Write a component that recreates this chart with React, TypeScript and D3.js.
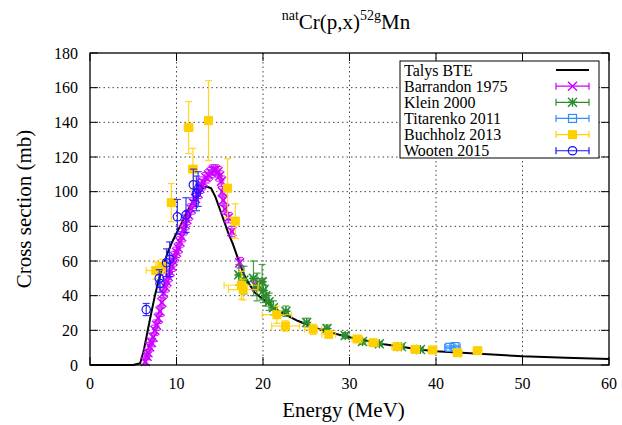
import { useEffect, useRef } from "react";
import * as d3 from "d3";

// Talys BTE calculation
const talysEnergy = [0, 5, 5.8, 6.2, 6.6, 7, 7.5, 8, 8.5, 9, 9.5, 10, 10.5, 11, 11.5, 12, 12.5, 13, 13.5, 14, 14.5, 15, 15.5, 16, 16.5, 17, 17.5, 18, 18.5, 19, 19.5, 20, 21, 22, 23, 24, 25, 26, 27, 28, 30, 32, 34, 36, 38, 40, 45, 50, 55, 60];
const talysXS = [0, 0, 1, 8, 18, 28, 40, 50, 58, 65, 71, 76, 81, 86, 91, 95, 99, 102, 103, 102, 97, 90, 83, 76, 70, 63, 56, 50, 46, 42, 40, 38, 34, 30.5, 28, 25.5, 23.5, 21.5, 20, 18.5, 16, 14, 12, 10.5, 9, 8, 6.5, 5, 4.2, 3.5];

// [energy, xs, dE, dxs]
const barrandon1975 = [
  [6.4, 2, 0.15, 2], [6.6, 5, 0.15, 2], [6.7, 7, 0.15, 2], [6.9, 10.5, 0.15, 2.5], [7.1, 13, 0.15, 2.5],
  [7.3, 16, 0.15, 2.5], [7.5, 20, 0.15, 3], [7.7, 23, 0.15, 3], [7.9, 27, 0.15, 3], [8.1, 31, 0.15, 3],
  [8.3, 36, 0.15, 3], [8.5, 41.5, 0.15, 3], [8.7, 45, 0.15, 3], [8.9, 48, 0.15, 3], [9.05, 51, 0.15, 3],
  [9.25, 54, 0.15, 3], [9.45, 57, 0.15, 3], [9.6, 60, 0.15, 3], [9.8, 62.5, 0.15, 3], [10.0, 65, 0.15, 3],
  [10.2, 67.5, 0.15, 3], [10.4, 71, 0.15, 3], [10.6, 74, 0.15, 3], [10.8, 78, 0.15, 3], [11.0, 81, 0.15, 3],
  [11.2, 84, 0.15, 3], [11.4, 86.5, 0.15, 3], [11.7, 90, 0.15, 3], [11.95, 93.5, 0.15, 3], [12.2, 96, 0.15, 3],
  [12.5, 99, 0.15, 3], [12.7, 102, 0.15, 3], [12.9, 104, 0.15, 3], [13.1, 105.5, 0.15, 3], [13.4, 108, 0.15, 3],
  [13.7, 109.6, 0.15, 3], [14.0, 111, 0.15, 3], [14.25, 112.5, 0.15, 3], [14.5, 112.5, 0.15, 3], [14.8, 111.5, 0.15, 3],
  [15.0, 109, 0.15, 3], [15.2, 106, 0.15, 3], [15.3, 100, 0.15, 3], [15.4, 95, 0.15, 3], [15.6, 90, 0.15, 3],
  [16.0, 85, 0.15, 3], [16.4, 77, 0.15, 3], [17.3, 59, 0.15, 3], [19.1, 46, 0.15, 3],
];

const klein2000 = [
  [17.2, 52, 0.3, 6], [17.8, 49, 0.3, 8], [18.9, 50, 0.3, 10], [19.3, 45, 0.3, 8], [19.9, 48, 0.3, 10],
  [20.05, 43, 0.3, 7], [20.3, 40, 0.3, 6], [20.7, 36.5, 0.3, 5], [21.2, 33, 0.3, 4], [22.65, 31, 0.3, 3],
  [25.05, 24.5, 0.3, 2.5], [27.4, 21, 0.3, 2], [29.5, 17, 0.3, 1.7], [31.5, 13.5, 0.3, 1.5],
  [33.45, 12.3, 0.3, 1.2], [36, 10.6, 0.3, 1], [38.2, 9, 0.3, 0.9],
];

const titarenko2011 = [
  [41.6, 10.2, 0.6, 0.8], [42.2, 10.6, 0.6, 0.8],
];

const buchholz2013 = [
  [7.6, 54.5, 1.1, 5], [8.4, 57, 0.6, 4], [9.4, 93.7, 0.4, 11], [11.4, 137, 0.5, 15],
  [11.9, 113, 0.5, 12], [13.7, 141, 0.3, 23], [15.9, 102, 0.3, 17], [16.8, 83, 0.3, 10],
  [17.5, 46, 2, 8], [17.7, 43.5, 1.7, 6], [21.6, 29, 1.7, 5], [22.6, 22.5, 1.6, 3],
  [25.8, 20.6, 1.0, 3], [27.6, 17.7, 0.8, 2], [30.9, 15, 0.6, 1.5], [32.75, 12.9, 0.6, 1.3],
  [35.5, 10.6, 0.6, 1], [37.6, 9, 0.5, 1], [39.6, 8.7, 0.5, 1], [42.5, 7.1, 0.5, 1], [44.8, 8.3, 0.5, 1],
];

const wooten2015 = [
  [6.5, 32, 0, 3.5], [8.0, 50, 0, 5], [8.1, 47, 0, 5], [8.85, 59, 0, 8], [9.2, 61, 0, 10],
  [10.1, 85.5, 0, 10], [11.1, 86.5, 0, 10], [11.95, 104, 0, 9], [12.3, 99, 0, 10], [12.5, 101.5, 0, 10],
];

const xTicks = [0, 10, 20, 30, 40, 50, 60];
const yTicks = [0, 20, 40, 60, 80, 100, 120, 140, 160, 180];

const series = [
  { name: "Barrandon 1975", data: barrandon1975, color: "#cc00ff", mark: "cross" },
  { name: "Klein 2000", data: klein2000, color: "#2a8c2a", mark: "star" },
  { name: "Titarenko 2011", data: titarenko2011, color: "#2d8cff", mark: "square" },
  { name: "Buchholz 2013", data: buchholz2013, color: "#ffd000", mark: "fsquare" },
  { name: "Wooten 2015", data: wooten2015, color: "#1414ff", mark: "circle" },
];

function drawMark(g: any, kind: string, cx: number, cy: number, color: string) {
  const s = 4.5;
  if (kind === "cross" || kind === "star") {
    g.append("path")
      .attr("d", `M${cx - s},${cy - s}L${cx + s},${cy + s}M${cx - s},${cy + s}L${cx + s},${cy - s}` +
        (kind === "star" ? `M${cx - s},${cy}L${cx + s},${cy}M${cx},${cy - s}L${cx},${cy + s}` : ""))
      .attr("stroke", color).attr("stroke-width", 1.4).attr("fill", "none");
  } else if (kind === "square") {
    g.append("rect").attr("x", cx - 4).attr("y", cy - 4).attr("width", 8).attr("height", 8)
      .attr("fill", "none").attr("stroke", color).attr("stroke-width", 1.2);
  } else if (kind === "fsquare") {
    g.append("rect").attr("x", cx - 4.5).attr("y", cy - 4.5).attr("width", 9).attr("height", 9)
      .attr("fill", color);
  } else if (kind === "circle") {
    g.append("circle").attr("cx", cx).attr("cy", cy).attr("r", 4.2)
      .attr("fill", "none").attr("stroke", color).attr("stroke-width", 1.2);
  }
}

function Chart() {
  const ref = useRef<SVGSVGElement>(null);

  useEffect(() => {
    const width = 622, height = 425;
    const margin = { left: 90, right: 13, top: 53, bottom: 60 };
    const x = d3.scaleLinear().domain([0, 60]).range([margin.left, width - margin.right]);
    const y = d3.scaleLinear().domain([0, 180]).range([height - margin.bottom, margin.top]);

    const svg = d3.select(ref.current);
    svg.selectAll("*").remove();
    svg.append("rect").attr("width", width).attr("height", height).attr("fill", "white");

    // grid
    const grid = svg.append("g").attr("stroke", "#444").attr("stroke-width", 1).attr("stroke-dasharray", "1.5,3");
    xTicks.slice(1, -1).forEach(t => {
      grid.append("line").attr("x1", x(t)).attr("x2", x(t)).attr("y1", y(0)).attr("y2", y(180));
    });
    yTicks.slice(1, -1).forEach(t => {
      grid.append("line").attr("x1", x(0)).attr("x2", x(60)).attr("y1", y(t)).attr("y2", y(t));
    });

    // ticks, inward on all sides
    const ticks = svg.append("g").attr("stroke", "black").attr("stroke-width", 1);
    xTicks.forEach(t => {
      ticks.append("line").attr("x1", x(t)).attr("x2", x(t)).attr("y1", y(0)).attr("y2", y(0) - 8);
      ticks.append("line").attr("x1", x(t)).attr("x2", x(t)).attr("y1", y(180)).attr("y2", y(180) + 8);
    });
    yTicks.forEach(t => {
      ticks.append("line").attr("x1", x(0)).attr("x2", x(0) + 8).attr("y1", y(t)).attr("y2", y(t));
      ticks.append("line").attr("x1", x(60)).attr("x2", x(60) - 8).attr("y1", y(t)).attr("y2", y(t));
    });

    const labels = svg.append("g").attr("fill", "black");
    xTicks.forEach(t => {
      labels.append("text").attr("x", x(t)).attr("y", y(0) + 24).attr("text-anchor", "middle")
        .attr("font-size", 16).text(t);
    });
    yTicks.forEach(t => {
      labels.append("text").attr("x", x(0) - 12).attr("y", y(t) + 5.5).attr("text-anchor", "end")
        .attr("font-size", 16).text(t);
    });

    labels.append("text").attr("x", (x(0) + x(60)) / 2 - 6).attr("y", 417).attr("text-anchor", "middle")
      .attr("font-size", 21).text("Energy (MeV)");
    labels.append("text").attr("transform", `translate(31,${(y(0) + y(180)) / 2}) rotate(-90)`)
      .attr("text-anchor", "middle").attr("font-size", 21).text("Cross section (mb)");

    const title = labels.append("text").attr("x", 346).attr("y", 29).attr("text-anchor", "middle").attr("font-size", 21);
    title.append("tspan").attr("font-size", 14).attr("dy", -9).text("nat");
    title.append("tspan").attr("dy", 9).text("Cr(p,x)");
    title.append("tspan").attr("font-size", 14).attr("dy", -9).text("52g");
    title.append("tspan").attr("dy", 9).text("Mn");

    const plot = svg.append("g");

    // Talys curve
    const line = d3.line<number>().x((d, i) => x(talysEnergy[i])).y(d => y(d));
    plot.append("path").attr("d", line(talysXS)).attr("fill", "none")
      .attr("stroke", "black").attr("stroke-width", 2);

    // experimental data with error bars
    series.forEach(s => {
      const g = plot.append("g");
      const bars = g.append("g").attr("stroke", s.color).attr("stroke-width", 1.2).attr("opacity", 0.85);
      s.data.forEach(([e, v, de, dv]) => {
        const cx = x(e), cy = y(v);
        if (de > 0) {
          bars.append("line").attr("x1", x(e - de)).attr("x2", x(e + de)).attr("y1", cy).attr("y2", cy);
          bars.append("line").attr("x1", x(e - de)).attr("x2", x(e - de)).attr("y1", cy - 3.5).attr("y2", cy + 3.5);
          bars.append("line").attr("x1", x(e + de)).attr("x2", x(e + de)).attr("y1", cy - 3.5).attr("y2", cy + 3.5);
        }
        bars.append("line").attr("x1", cx).attr("x2", cx).attr("y1", y(v - dv)).attr("y2", y(v + dv));
        bars.append("line").attr("x1", cx - 3.5).attr("x2", cx + 3.5).attr("y1", y(v - dv)).attr("y2", y(v - dv));
        bars.append("line").attr("x1", cx - 3.5).attr("x2", cx + 3.5).attr("y1", y(v + dv)).attr("y2", y(v + dv));
      });
      s.data.forEach(([e, v]) => drawMark(g, s.mark, x(e), y(v), s.color));
    });

    // legend
    const lg = svg.append("g");
    lg.append("rect").attr("x", 400).attr("y", 61).attr("width", 199).attr("height", 97)
      .attr("fill", "white").attr("stroke", "black").attr("stroke-width", 1);
    const rowY = (i: number) => 70 + i * 16.15;
    const lx1 = 556, lx2 = 589, lxc = 572.5;
    lg.append("text").attr("x", 404).attr("y", rowY(0) + 5.5).attr("font-size", 16).text("Talys BTE");
    lg.append("line").attr("x1", lx1).attr("x2", lx2).attr("y1", rowY(0)).attr("y2", rowY(0))
      .attr("stroke", "black").attr("stroke-width", 2);
    series.forEach((s, i) => {
      const cy = rowY(i + 1);
      lg.append("text").attr("x", 404).attr("y", cy + 5.5).attr("font-size", 16).text(s.name);
      const b = lg.append("g").attr("stroke", s.color).attr("stroke-width", 1.2);
      b.append("line").attr("x1", lx1).attr("x2", lx2).attr("y1", cy).attr("y2", cy);
      b.append("line").attr("x1", lx1).attr("x2", lx1).attr("y1", cy - 3.5).attr("y2", cy + 3.5);
      b.append("line").attr("x1", lx2).attr("x2", lx2).attr("y1", cy - 3.5).attr("y2", cy + 3.5);
      drawMark(lg, s.mark, lxc, cy, s.color);
    });

    // frame
    svg.append("rect").attr("x", x(0)).attr("y", y(180)).attr("width", x(60) - x(0)).attr("height", y(0) - y(180))
      .attr("fill", "none").attr("stroke", "black").attr("stroke-width", 1.3);
  }, []);

  return (
    <svg ref={ref} width={622} height={425}
      style={{ position: "absolute", left: 0, top: 0, fontFamily: "'Liberation Serif', 'Times New Roman', serif" }} />
  );
}

export default function App() {
  return <Chart />;
}
